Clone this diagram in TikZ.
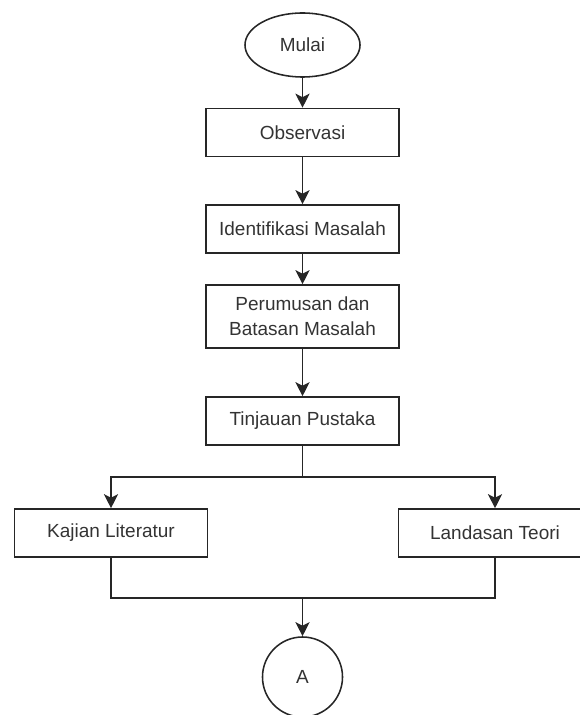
\documentclass[tikz,border=0pt]{standalone}
\usepackage{fontspec}
\setmainfont{Liberation Sans}
\usetikzlibrary{arrows.meta,shapes.geometric}

\begin{document}
\begin{tikzpicture}[x=0.025cm, y=-0.025cm,
    every node/.style={text=black!80, font=\fontsize{13.5}{17.5}\selectfont},
    stepbox/.style={draw=black!85, line width=1.1pt, rectangle, minimum width=4.825cm, minimum height=1.2cm, inner sep=0pt, align=center},
    startnode/.style={draw=black!85, line width=1.1pt, ellipse, minimum width=2.875cm, minimum height=1.6cm, inner sep=0pt},
    connector/.style={draw=black!85, line width=1.1pt, circle, minimum size=2cm, inner sep=0pt},
    flow/.style={draw=black!85, line width=1.1pt, -{Stealth[length=10pt, width=10pt, inset=2.5pt]}},
    link/.style={draw=black!85, line width=1.1pt}]
  % Page is 579 x 715 px; one unit is one pixel, y runs downwards.
  \useasboundingbox (0,0) rectangle (579,715);
  \node[startnode] (mulai) at (302.5,45) {Mulai};
  \node[stepbox] (observasi) at (302.5,132.5) {Observasi};
  \node[stepbox] (identifikasi) at (302.5,229) {Identifikasi Masalah};
  \node[stepbox, minimum height=1.575cm] (perumusan) at (302.5,316.5) {Perumusan dan\\Batasan Masalah};
  \node[stepbox] (tinjauan) at (302.5,421) {Tinjauan Pustaka};
  \node[stepbox] (kajian) at (111,533) {Kajian Literatur};
  \node[stepbox] (landasan) at (495,533) {Landasan Teori};
  \node[connector] (konektorA) at (302.5,677) {A};
  \coordinate (cabang) at (302.5,477);
  \coordinate (gabung) at (302.5,598);

  \draw[flow] (mulai) -- (observasi);
  \draw[flow] (observasi) -- (identifikasi);
  \draw[flow] (identifikasi) -- (perumusan);
  \draw[flow] (perumusan) -- (tinjauan);
  \draw[link] (tinjauan) -- (cabang);
  \draw[flow] (cabang) -| (kajian);
  \draw[flow] (cabang) -| (landasan);
  \draw[link] (kajian) |- (gabung);
  \draw[link] (landasan) |- (gabung);
  \draw[flow] (gabung) -- (konektorA);
\end{tikzpicture}
\end{document}
